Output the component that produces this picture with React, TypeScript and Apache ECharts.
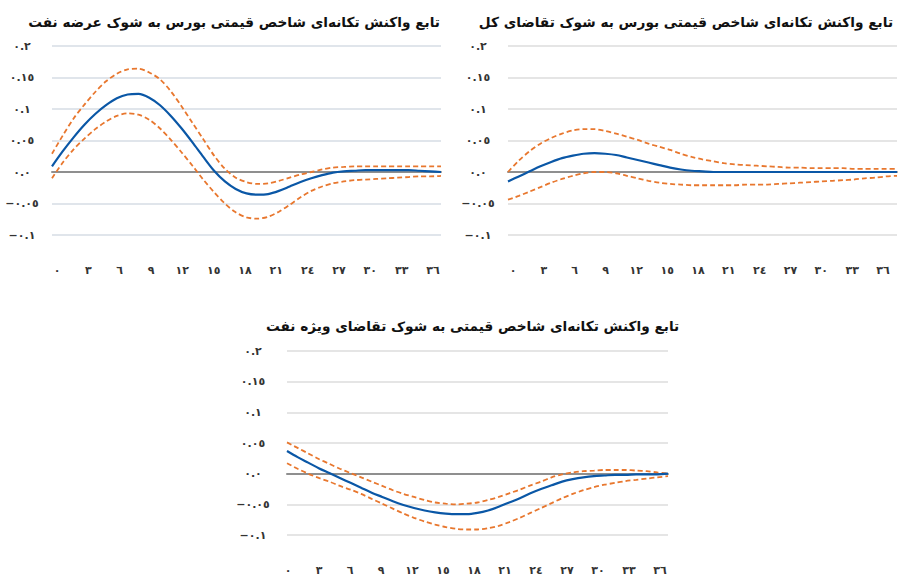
import React, { useEffect, useRef } from "react";
import * as echarts from "echarts";

// Horizon (months) 0..36
const lags: number[] = Array.from({ length: 37 }, (_, i) => i);

const xTickLabels = ["٠", "٣", "٦", "٩", "١٢", "١٥", "١٨", "٢١", "٢٤", "٢٧", "٣٠", "٣٣", "٣٦"];
const yTickValues = [-0.1, -0.05, 0, 0.05, 0.1, 0.15, 0.2];
const yTickLabels = ["−٠.١", "−٠.٠٥", "٠.٠", "٠.٠٥", "٠.١", "٠.١٥", "٠.٢"];

const titleSupply = "تابع واکنش تکانه‌ای شاخص قیمتی بورس به شوک عرضه نفت";
const titleAggDemand = "تابع واکنش تکانه‌ای شاخص قیمتی بورس به شوک تقاضای کل";
const titleOilDemand = "تابع واکنش تکانه‌ای شاخص قیمتی به شوک تقاضای ویژه نفت";

// Chart 1: oil supply shock
const supplyIrf = [0.009, 0.033, 0.055, 0.075, 0.092, 0.106, 0.117, 0.123, 0.124, 0.118, 0.106, 0.089, 0.069, 0.047, 0.024, 0.002, -0.015, -0.027, -0.034, -0.036, -0.035, -0.030, -0.023, -0.016, -0.010, -0.005, -0.001, 0.001, 0.002, 0.003, 0.003, 0.003, 0.003, 0.003, 0.002, 0.001, 0.0];
const supplyUpper = [0.029, 0.058, 0.085, 0.107, 0.127, 0.144, 0.156, 0.163, 0.164, 0.158, 0.147, 0.128, 0.104, 0.078, 0.052, 0.026, 0.005, -0.009, -0.016, -0.019, -0.018, -0.014, -0.009, -0.004, 0.0, 0.004, 0.007, 0.008, 0.009, 0.009, 0.009, 0.009, 0.009, 0.009, 0.009, 0.009, 0.009];
const supplyLower = [-0.010, 0.015, 0.036, 0.053, 0.068, 0.080, 0.089, 0.093, 0.091, 0.083, 0.069, 0.051, 0.031, 0.010, -0.012, -0.032, -0.050, -0.064, -0.072, -0.074, -0.071, -0.063, -0.052, -0.040, -0.030, -0.023, -0.018, -0.015, -0.013, -0.012, -0.011, -0.010, -0.009, -0.008, -0.007, -0.007, -0.006];

// Chart 2: aggregate demand shock
const aggIrf = [-0.015, -0.007, 0.001, 0.009, 0.016, 0.022, 0.026, 0.029, 0.030, 0.029, 0.027, 0.023, 0.019, 0.015, 0.011, 0.007, 0.004, 0.002, 0.001, 0.0, 0.0, 0.0, 0.0, 0.0, 0.0, 0.0, 0.0, 0.0, 0.0, 0.0, 0.0, 0.0, 0.0, 0.0, 0.0, 0.0, 0.0];
const aggUpper = [0.0, 0.018, 0.033, 0.045, 0.054, 0.061, 0.066, 0.068, 0.068, 0.065, 0.061, 0.056, 0.051, 0.045, 0.040, 0.035, 0.029, 0.024, 0.020, 0.017, 0.014, 0.012, 0.011, 0.010, 0.009, 0.008, 0.007, 0.007, 0.006, 0.006, 0.006, 0.006, 0.005, 0.005, 0.005, 0.005, 0.005];
const aggLower = [-0.044, -0.038, -0.031, -0.024, -0.017, -0.011, -0.006, -0.002, 0.0, 0.0, -0.002, -0.006, -0.010, -0.014, -0.017, -0.019, -0.020, -0.021, -0.021, -0.021, -0.021, -0.021, -0.020, -0.020, -0.020, -0.019, -0.018, -0.017, -0.016, -0.015, -0.014, -0.013, -0.012, -0.010, -0.009, -0.007, -0.006];

// Chart 3: oil-specific demand shock
const oilIrf = [0.037, 0.027, 0.018, 0.009, 0.001, -0.007, -0.015, -0.023, -0.031, -0.038, -0.045, -0.051, -0.056, -0.060, -0.063, -0.065, -0.066, -0.066, -0.064, -0.060, -0.054, -0.047, -0.040, -0.032, -0.025, -0.019, -0.013, -0.009, -0.006, -0.004, -0.003, -0.002, -0.002, -0.001, -0.001, -0.001, 0.0];
const oilUpper = [0.051, 0.042, 0.033, 0.024, 0.016, 0.008, 0.001, -0.006, -0.013, -0.020, -0.027, -0.033, -0.038, -0.043, -0.047, -0.049, -0.050, -0.049, -0.047, -0.043, -0.038, -0.032, -0.026, -0.019, -0.013, -0.006, -0.001, 0.002, 0.004, 0.005, 0.006, 0.006, 0.006, 0.005, 0.004, 0.002, 0.0];
const oilLower = [0.017, 0.008, 0.0, -0.007, -0.013, -0.020, -0.026, -0.033, -0.041, -0.049, -0.057, -0.065, -0.072, -0.078, -0.083, -0.087, -0.090, -0.091, -0.091, -0.089, -0.085, -0.079, -0.072, -0.064, -0.056, -0.048, -0.040, -0.033, -0.027, -0.022, -0.018, -0.015, -0.012, -0.010, -0.008, -0.006, -0.004];

const FONT = "DejaVu Sans";
const BLUE = "#0a57a6";
const ORANGE = "#e8772e";

function pairs(vals: number[]) {
  return lags.map((l, i) => [l, vals[i]]);
}

export default function App() {
  const ref = useRef<HTMLDivElement>(null);
  useEffect(() => {
    if (!ref.current) return;
    const chart = echarts.init(ref.current, null, { renderer: "svg" });

    const panels = [
      { data: { left: 52, top: 46, width: 389, height: 189 }, labels: { left: 57, width: 376 }, margin: 30, grid: "#d6dde5", sets: [supplyUpper, supplyLower, supplyIrf] },
      { data: { left: 508, top: 46, width: 389, height: 189 }, labels: { left: 513, width: 370 }, margin: 30, grid: "#dcdcdc", sets: [aggUpper, aggLower, aggIrf] },
      { data: { left: 287, top: 351, width: 381, height: 184 }, labels: { left: 288, width: 372 }, margin: 34, grid: "#dcdcdc", sets: [oilUpper, oilLower, oilIrf] },
    ];

    const grid: any[] = [];
    const xAxis: any[] = [];
    const yAxis: any[] = [];
    const series: any[] = [];

    panels.forEach((p) => {
      grid.push({ ...p.data });
    });
    panels.forEach((p) => {
      grid.push({ left: p.labels.left, width: p.labels.width, top: p.data.top + p.data.height - 30, height: 30 });
    });

    panels.forEach((p, i) => {
      xAxis.push({
        type: "value", gridIndex: i, min: 0, max: 36,
        axisLine: { show: true, onZero: true, lineStyle: { color: "#8f8f8f", width: 2 } },
        axisTick: { show: false }, axisLabel: { show: false }, splitLine: { show: false },
      });
      yAxis.push({
        type: "value", gridIndex: i, min: -0.1, max: 0.2, interval: 0.05,
        axisLine: { show: false }, axisTick: { show: false },
        splitLine: { show: true, lineStyle: { color: p.grid, width: 1.5 } },
        axisLabel: {
          margin: p.margin, align: "center", fontFamily: FONT, fontSize: 11, fontWeight: "bold", color: "#333",
          formatter: (v: number) => {
            const idx = yTickValues.findIndex((t) => Math.abs(t - v) < 1e-6);
            return idx >= 0 ? yTickLabels[idx] : "";
          },
        },
      });
    });
    panels.forEach((p, i) => {
      xAxis.push({
        type: "value", gridIndex: 3 + i, min: 0, max: 36, interval: 3,
        axisLine: { show: false }, axisTick: { show: false }, splitLine: { show: false },
        axisLabel: {
          margin: 30, fontFamily: FONT, fontSize: 11, fontWeight: "bold", color: "#333",
          formatter: (v: number) => xTickLabels[Math.round(v / 3)] ?? "",
        },
      });
      yAxis.push({ type: "value", gridIndex: 3 + i, min: 0, max: 1, show: false });
    });

    panels.forEach((p, i) => {
      p.sets.forEach((vals, k) => {
        const isIrf = k === 2;
        series.push({
          type: "line", xAxisIndex: i, yAxisIndex: i, data: pairs(vals),
          smooth: 0.3, showSymbol: false, symbol: "none", silent: true, z: isIrf ? 3 : 2,
          lineStyle: isIrf
            ? { color: BLUE, width: 2.2 }
            : { color: ORANGE, width: 1.8, type: [5, 3] },
        });
      });
    });

    const titleStyle = { fontFamily: FONT, fontSize: 13.7, fontWeight: "bold" as const, color: "#111" };
    chart.setOption({
      animation: false,
      backgroundColor: "#ffffff",
      title: [
        { text: titleSupply, right: 453, top: 10, textStyle: titleStyle },
        { text: titleAggDemand, right: 0, top: 10, textStyle: titleStyle },
        { text: titleOilDemand, left: 261, top: 314, textStyle: titleStyle },
      ],
      grid, xAxis, yAxis, series,
    });
    return () => chart.dispose();
  }, []);
  return <div ref={ref} style={{ position: "fixed", left: 0, top: 0, width: 898, height: 577, background: "#fff" }} />;
}
